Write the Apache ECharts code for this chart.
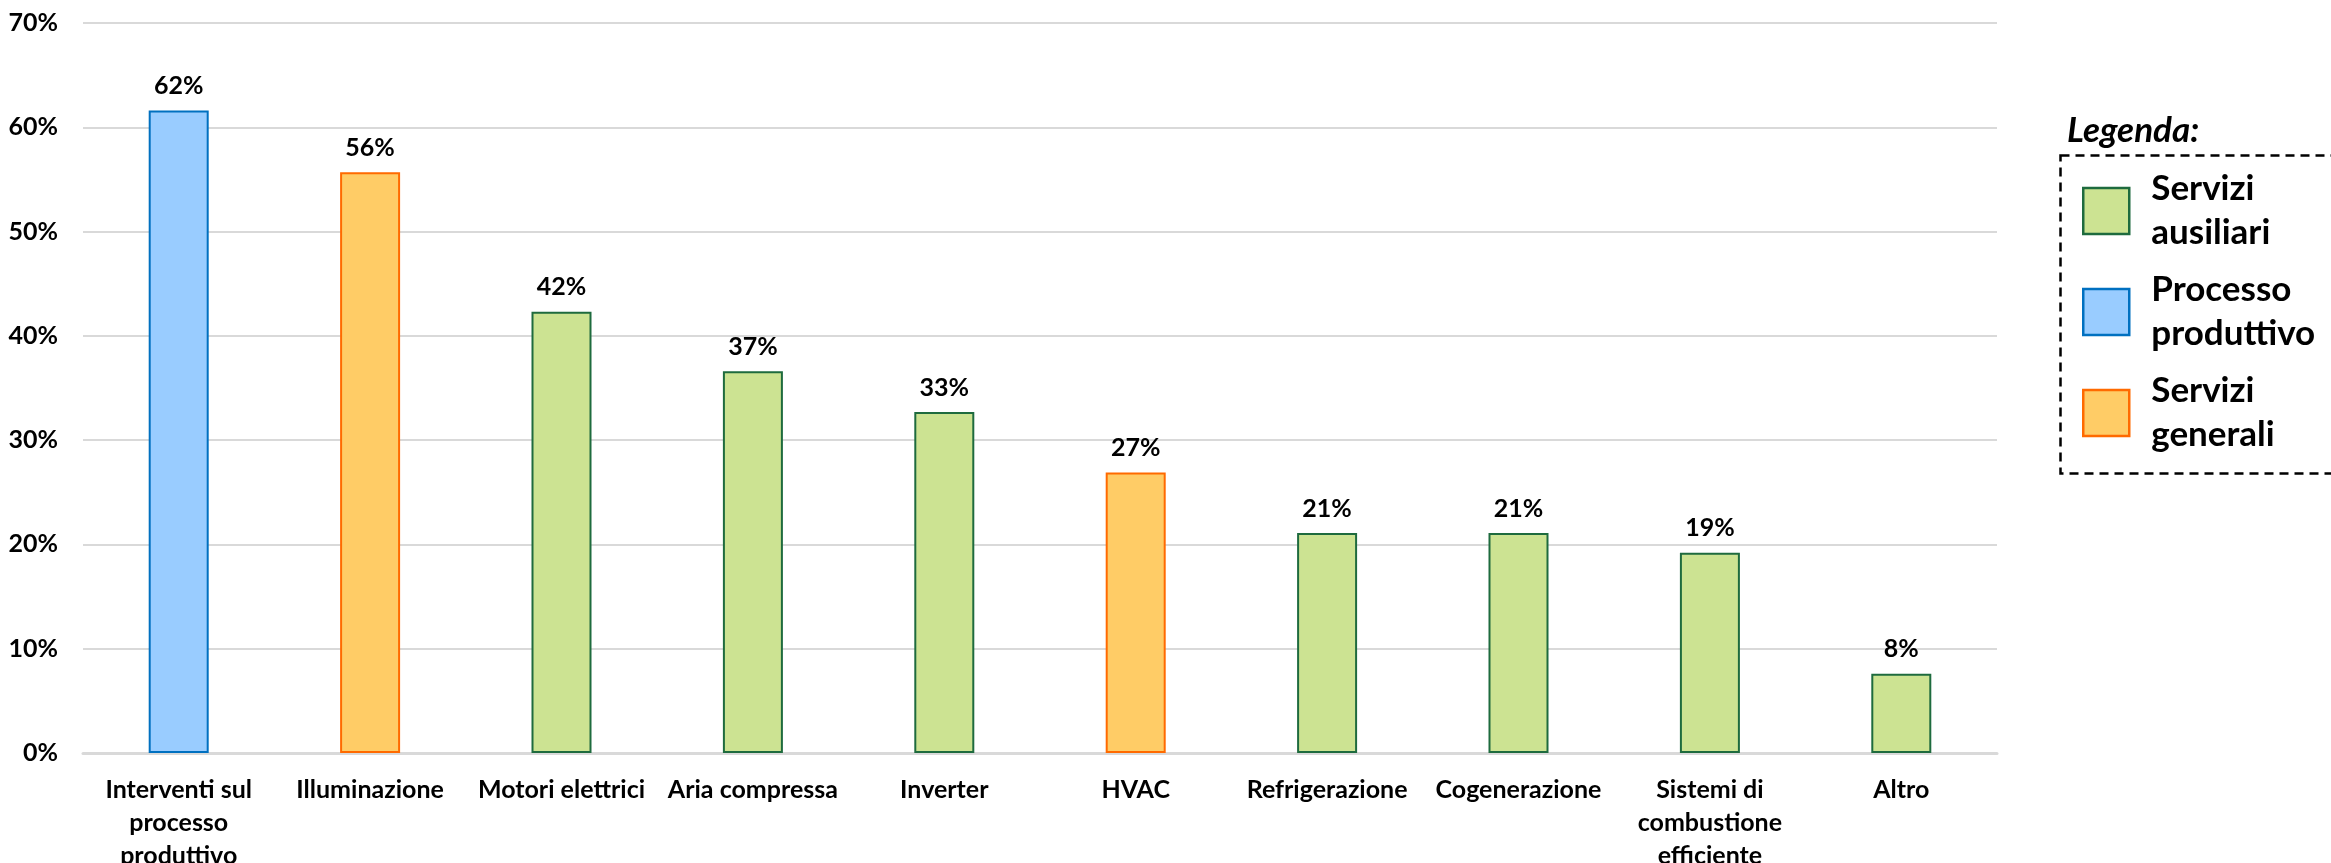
<!DOCTYPE html>
<html>
<head>
<meta charset="utf-8">
<title>Interventi di efficienza energetica</title>
<script src="https://cdn.jsdelivr.net/npm/echarts@6/dist/echarts.min.js"></script>
<style>
  html, body { margin: 0; padding: 0; background: #ffffff; }
  #chart { width: 2331px; height: 863px; }
</style>
</head>
<body>
<div id="chart"></div>
<script>
// Categories (line breaks are where the axis labels wrap)
const categories = [
  'Interventi sul\nprocesso\nproduttivo',
  'Illuminazione',
  'Motori elettrici',
  'Aria compressa',
  'Inverter',
  'HVAC',
  'Refrigerazione',
  'Cogenerazione',
  'Sistemi di\ncombustione\nefficiente',
  'Altro'
];

// Share of companies per intervention type (%)
const values = [61.6, 55.7, 42.3, 36.6, 32.7, 26.9, 21.1, 21.1, 19.2, 7.6];

// Group of each category: 0 = Servizi ausiliari, 1 = Processo produttivo, 2 = Servizi generali
const groupOf = [1, 2, 0, 0, 0, 2, 0, 0, 0, 0];

const groupNames = ['Servizi\nausiliari', 'Processo\nproduttivo', 'Servizi\ngenerali'];
const groupFill = ['#CCE392', '#99CCFF', '#FFCC66'];
const groupBorder = ['#1E6B3E', '#0070C0', '#FF6A00'];

const yTicks = { min: 0, max: 70, interval: 10 };

const FONT = 'Lato, "Noto Sans", sans-serif';

const chart = echarts.init(document.getElementById('chart'), null, { renderer: 'canvas' });

const series = groupNames.map((name, g) => ({
  name: name,
  type: 'bar',
  barWidth: 60,
  barGap: '-100%',
  data: values.map((v, i) => (groupOf[i] === g ? v : null)),
  itemStyle: {
    color: groupFill[g],
    borderColor: groupBorder[g],
    borderWidth: 2
  },
  label: {
    show: true,
    position: 'top',
    distance: 12,
    color: '#000',
    fontFamily: FONT,
    fontWeight: 'bold',
    fontSize: 25,
    formatter: p => (p.value == null ? '' : Math.round(p.value) + '%')
  }
}));

chart.setOption({
  backgroundColor: '#ffffff',
  animation: false,
  title: {
    text: 'Legenda:',
    left: 2062,
    top: 108,
    textStyle: {
      fontFamily: FONT,
      fontWeight: 'bold',
      fontStyle: 'italic',
      fontSize: 35,
      color: '#000'
    }
  },
  legend: {
    orient: 'vertical',
    left: 2077,
    top: 162,
    itemWidth: 46,
    itemHeight: 46,
    itemGap: 13,
    icon: 'rect',
    selectedMode: false,
    data: groupNames,
    itemStyle: { borderWidth: 2.5 },
    formatter: name => name.split('\n').map(line => '{t|' + line + '}').join('\n'),
    textStyle: {
      fontFamily: FONT,
      fontWeight: 'bold',
      fontSize: 35,
      lineHeight: 44,
      color: '#000',
      rich: {
        t: {
          fontFamily: FONT,
          fontWeight: 'bold',
          fontSize: 35,
          lineHeight: 44,
          color: '#000',
          padding: [0, 0, 0, 17]
        }
      }
    }
  },
  graphic: [{
    type: 'rect',
    left: 2058,
    top: 153,
    shape: { width: 300, height: 318 },
    style: { fill: 'none', stroke: '#000', lineWidth: 2.5, lineDash: [9, 6] },
    silent: true
  }],
  grid: {
    left: 83,
    right: 334,
    top: 23,
    bottom: 110,
    containLabel: false,
    outerBoundsMode: 'none'
  },
  xAxis: {
    type: 'category',
    data: categories,
    axisLine: { show: true, lineStyle: { color: '#D9D9D9', width: 3 } },
    axisTick: { show: false },
    axisLabel: {
      interval: 0,
      margin: 20,
      color: '#000',
      fontFamily: FONT,
      fontWeight: 'bold',
      fontSize: 25,
      lineHeight: 33
    }
  },
  yAxis: {
    type: 'value',
    min: yTicks.min,
    max: yTicks.max,
    interval: yTicks.interval,
    axisLine: { show: false },
    axisTick: { show: false },
    splitLine: { lineStyle: { color: '#D9D9D9', width: 2 } },
    axisLabel: {
      margin: 25,
      color: '#000',
      fontFamily: FONT,
      fontWeight: 'bold',
      fontSize: 25,
      formatter: '{value}%'
    }
  },
  series: series
});
</script>
</body>
</html>
